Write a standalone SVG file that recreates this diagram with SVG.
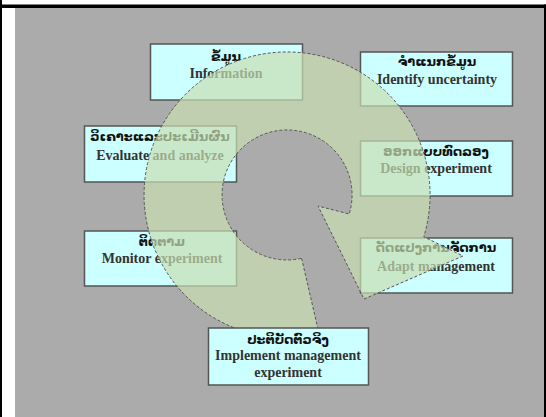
<svg xmlns="http://www.w3.org/2000/svg" width="546" height="417" viewBox="0 0 546 417">
<style>
.box{fill:#ccffff;stroke:#555;stroke-width:1.5}
.lo{font-family:"DejaVu Sans","Noto Sans",sans-serif;font-size:13px;font-weight:bold;fill:#111;text-anchor:middle}
.en{font-family:"Liberation Serif","Times New Roman",serif;font-size:14px;font-weight:bold;fill:#333;text-anchor:middle}
.ring{fill:#c8deb2;fill-opacity:0.7;stroke:#555;stroke-width:1;stroke-dasharray:3 2}
</style>
<rect x="0" y="0" width="546" height="417" fill="#ffffff"/>
<rect x="15" y="8" width="531" height="409" fill="#ababab"/>
<rect x="0" y="4.5" width="546" height="3.5" fill="#000"/>
<rect x="0" y="0" width="2" height="417" fill="#000"/>
<rect x="544" y="4.5" width="2" height="412.5" fill="#000"/>

<g id="node-information">
<rect class="box" x="150.5" y="44" width="152" height="56"/>
<text class="lo" x="226" y="61">ຂໍ້ມູນ</text>
<text class="en" x="226" y="78">Information</text>
</g>
<g id="node-identify">
<rect class="box" x="360.5" y="52" width="152" height="54"/>
<text class="lo" x="437" y="66">ຈຳແນກຂໍ້ມູນ</text>
<text class="en" x="437" y="84">Identify uncertainty</text>
</g>
<g id="node-evaluate">
<rect class="box" x="84.5" y="126" width="152" height="56"/>
<text class="lo" x="160" y="141">ວິເຄາະແລະປະເມີນຜົນ</text>
<text class="en" x="160" y="160">Evaluate and analyze</text>
</g>
<g id="node-design">
<rect class="box" x="360.5" y="141" width="152" height="55"/>
<text class="lo" x="436" y="156">ອອກແບບທົດລອງ</text>
<text class="en" x="436" y="173">Design experiment</text>
</g>
<g id="node-monitor">
<rect class="box" x="84.5" y="231" width="152" height="55"/>
<text class="lo" x="162" y="246">ຕິດຕາມ</text>
<text class="en" x="162" y="263">Monitor experiment</text>
</g>
<g id="node-adapt">
<rect class="box" x="360.5" y="238" width="152" height="55"/>
<text class="lo" x="436" y="252">ດັດແປງການຈັດການ</text>
<text class="en" x="436" y="271">Adapt management</text>
</g>

<g id="connectors">
<path class="ring" d="M301.6,258.3 L319.2,334.3 A143,143 0 1 1 423.8,236.8 L463,256 L364,299 L318,206 L349.2,214 A65,65 0 1 0 301.6,258.3 Z"/>
</g>

<g id="node-implement">
<rect class="box" x="208.5" y="328" width="160" height="57"/>
<text class="lo" x="288" y="344">ປະຕິບັດຕົວຈິງ</text>
<text class="en" x="288" y="360">Implement management</text>
<text class="en" x="288" y="377">experiment</text>
</g>
</svg>
